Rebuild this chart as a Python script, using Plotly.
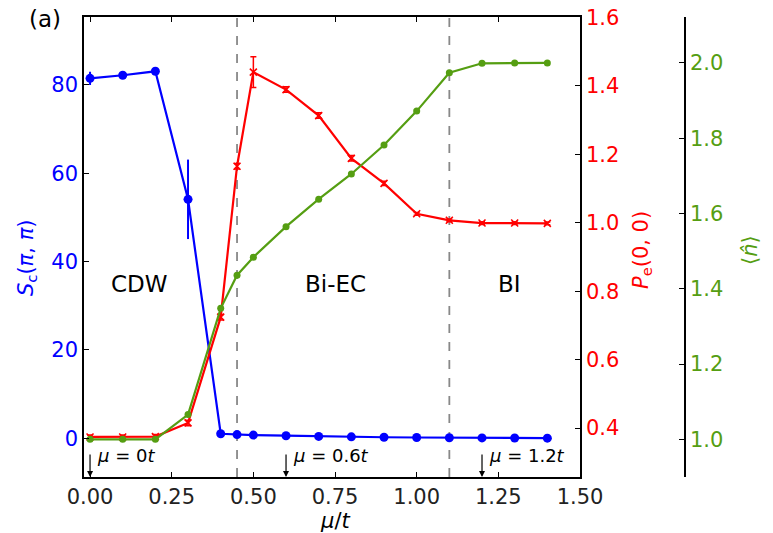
import plotly.graph_objects as go

# Chemical potential grid
mu = [0.0, 0.1, 0.2, 0.3, 0.4, 0.45, 0.5, 0.6, 0.7, 0.8, 0.9, 1.0, 1.1, 1.2, 1.3, 1.4]

# CDW structure factor S_c(pi, pi)
sc = [81.5, 82.2, 83.1, 54.1, 1.0, 0.8, 0.7, 0.55, 0.4, 0.3, 0.2, 0.15, 0.1, 0.05, 0.03, 0.0]
sc_err = [1.5, 0.4, 0.4, 9.0, 0.3, 0.2, 0.2, 0.1, 0.1, 0.1, 0.1, 0.1, 0.1, 0.1, 0.1, 0.1]

# Exciton pair structure factor P_e(0, 0)
pe = [0.374, 0.374, 0.375, 0.415, 0.724, 1.165, 1.44, 1.389, 1.313, 1.188, 1.115, 1.026, 1.007, 0.999, 0.999, 0.998]
pe_err = [0.006, 0.006, 0.006, 0.008, 0.008, 0.008, 0.045, 0.008, 0.008, 0.008, 0.006, 0.004, 0.004, 0.004, 0.004, 0.004]

# Mean density <n>
dens = [1.0, 1.0, 1.0, 1.066, 1.348, 1.436, 1.484, 1.565, 1.638, 1.705, 1.782, 1.872, 1.974, 1.999, 2.0, 2.0]

# Phase boundaries and phase labels
boundaries = [0.45, 1.1]
phase_names = ["CDW", "Bi-EC", "BI"]
phase_x = [0.15, 0.75, 1.285]
phase_y = 35

# Marked chemical potentials
marked_mu = [0.0, 0.6, 1.2]
marked_text = ["<i>μ</i> = 0<i>t</i>", "<i>μ</i> = 0.6<i>t</i>", "<i>μ</i> = 1.2<i>t</i>"]

W, H = 773, 533
FONT = "DejaVu Sans"
BLUE = "#0000ff"
RED = "#ff0000"
GREEN = "#559e12"
TICK_SIZE = 21
TITLE_SIZE = 21

x_dom = [84 / W, 580 / W]
y_dom = [(H - 477) / H, (H - 17) / H]

fig = go.Figure()

fig.add_trace(go.Scatter(
    x=mu, y=sc, mode="lines+markers", yaxis="y",
    line=dict(color=BLUE, width=2.2),
    marker=dict(color=BLUE, size=9),
    error_y=dict(type="data", array=sc_err, color=BLUE, thickness=2, width=0),
))
fig.add_trace(go.Scatter(
    x=mu, y=pe, mode="lines+markers", yaxis="y2",
    line=dict(color=RED, width=2.2),
    marker=dict(symbol="x-thin", size=7, line=dict(color=RED, width=1.6)),
    error_y=dict(type="data", array=pe_err, color=RED, thickness=1.5, width=3),
))
fig.add_trace(go.Scatter(
    x=mu, y=dens, mode="lines+markers", yaxis="y3",
    line=dict(color=GREEN, width=2.2),
    marker=dict(color=GREEN, size=7),
))

for b in boundaries:
    fig.add_shape(type="line", xref="x", yref="paper", x0=b, x1=b,
                  y0=y_dom[0], y1=y_dom[1], layer="below",
                  line=dict(color="#888888", width=1.8, dash="dash"))

annotations = []
for name, px in zip(phase_names, phase_x):
    annotations.append(dict(x=px, y=phase_y, xref="x", yref="y", text=name,
                            xanchor="center", yanchor="middle",
                            showarrow=False, font=dict(size=23, color="black")))

for m, t in zip(marked_mu, marked_text):
    annotations.append(dict(x=m, y=y_dom[0], xref="x", yref="paper", text="",
                            showarrow=True, ax=0, ay=-24, arrowhead=2,
                            arrowsize=1, arrowwidth=1.2, arrowcolor="black",
                            standoff=0))
    annotations.append(dict(x=m + 0.016, y=-3.9, xref="x", yref="y", text=t,
                            xanchor="left", yanchor="middle", showarrow=False,
                            font=dict(size=18, color="black")))

annotations += [
    dict(x=27 / W, y=(H - 19) / H, xref="paper", yref="paper", text="(a)",
         showarrow=False, xanchor="left", yanchor="middle",
         font=dict(size=23, color="black")),
    dict(x=335 / W, y=(H - 521) / H, xref="paper", yref="paper",
         text="<i>μ</i>/<i>t</i>", showarrow=False,
         xanchor="center", yanchor="middle",
         font=dict(size=TITLE_SIZE, color="black")),
    dict(x=27 / W, y=(H - 258) / H, xref="paper", yref="paper",
         text="<i>S</i><sub>c</sub>(<i>π</i>, <i>π</i>)", textangle=-90,
         xanchor="center", yanchor="middle",
         showarrow=False, font=dict(size=TITLE_SIZE, color=BLUE)),
    dict(x=642 / W, y=(H - 250) / H, xref="paper", yref="paper",
         text="<i>P</i><sub>e</sub>(0, 0)", textangle=-90,
         xanchor="center", yanchor="middle",
         showarrow=False, font=dict(size=TITLE_SIZE, color=RED)),
    dict(x=750 / W, y=(H - 250) / H, xref="paper", yref="paper",
         text="⟨<i>n̂</i>⟩", textangle=-90,
         xanchor="center", yanchor="middle",
         showarrow=False, font=dict(size=TITLE_SIZE, color=GREEN)),
]

axis_common = dict(showline=True, linecolor="black", linewidth=1.6,
                   showgrid=False, zeroline=False, ticks="inside",
                   ticklen=5, tickwidth=1.2, tickcolor="black",
                   automargin=False)

fig.update_layout(
    width=W, height=H,
    margin=dict(l=0, r=0, t=0, b=0),
    paper_bgcolor="white", plot_bgcolor="white",
    showlegend=False,
    font=dict(family=FONT, size=TICK_SIZE, color="black"),
    xaxis=dict(domain=x_dom, range=[-0.0185, 1.5], tick0=0, dtick=0.25,
               tickformat=".2f", mirror="ticks",
               tickfont=dict(size=TICK_SIZE, color="#222222"), **axis_common),
    yaxis=dict(domain=y_dom, range=[-8.8, 95.4], tick0=0, dtick=20,
               tickfont=dict(size=TICK_SIZE, color=BLUE), **axis_common),
    yaxis2=dict(overlaying="y", side="right", anchor="x",
                range=[0.257, 1.601], tick0=0.4, dtick=0.2, tickformat=".1f",
                tickfont=dict(size=TICK_SIZE, color=RED), **axis_common),
    yaxis3=dict(overlaying="y", side="right", anchor="free",
                position=685 / W, range=[0.9, 2.122], tick0=1.0, dtick=0.2,
                tickformat=".1f", tickfont=dict(size=TICK_SIZE, color=GREEN),
                **axis_common),
    annotations=annotations,
)

fig.write_html("out.html")
